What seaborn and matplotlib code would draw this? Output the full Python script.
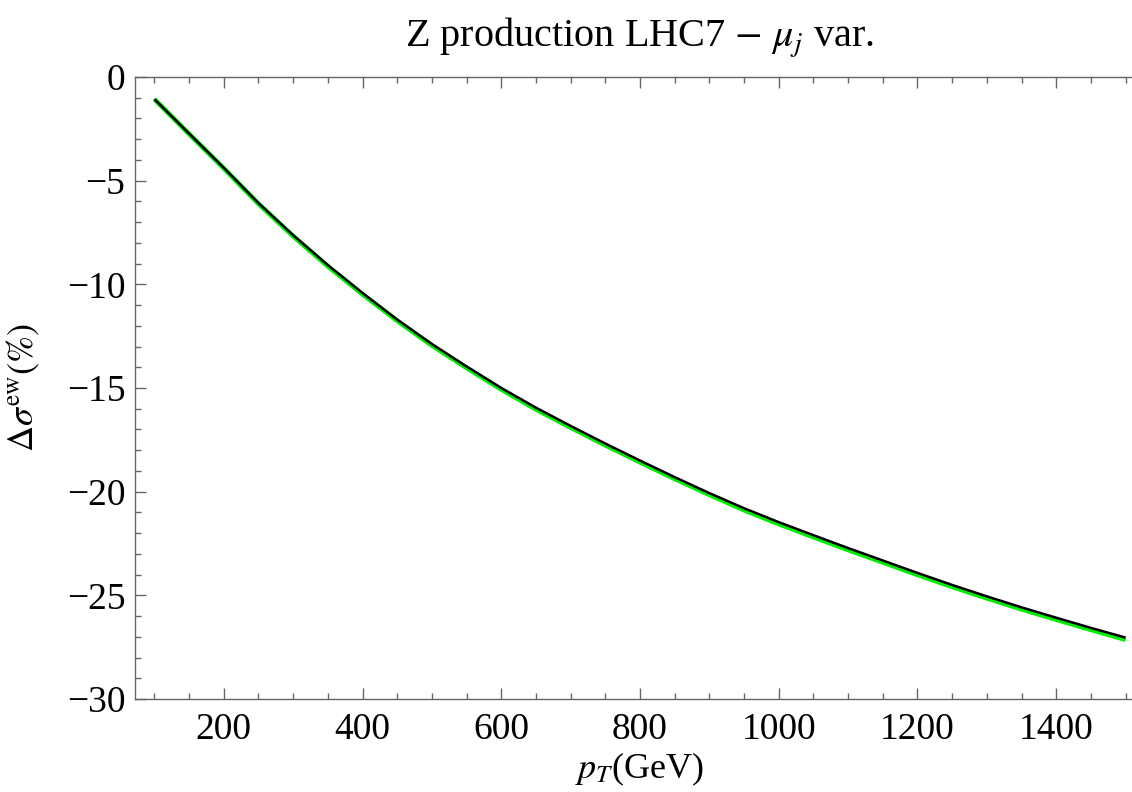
import matplotlib
matplotlib.use("Agg")
import matplotlib.pyplot as plt
from matplotlib.ticker import MultipleLocator
import pandas as pd
import seaborn as sns

# Transverse momentum grid (GeV)
pt = [100, 150, 200, 250, 300, 350, 400, 450, 500, 550, 600, 650, 700, 750,
      800, 850, 900, 950, 1000, 1050, 1100, 1150, 1200, 1250, 1300, 1350,
      1400, 1450, 1500]

# Relative electroweak correction (%) - central scale
delta_central = [-1.07, -2.73, -4.38, -6.08, -7.63, -9.07, -10.42, -11.70,
                 -12.88, -13.96, -15.00, -15.95, -16.83, -17.68, -18.50,
                 -19.30, -20.07, -20.80, -21.47, -22.10, -22.72, -23.32,
                 -23.92, -24.50, -25.05, -25.58, -26.08, -26.57, -27.04]

# Relative electroweak correction (%) - varied jet scale mu_j
delta_varied = [-1.07, -2.75, -4.41, -6.12, -7.68, -9.13, -10.48, -11.76,
                -12.95, -14.03, -15.07, -16.03, -16.91, -17.76, -18.58,
                -19.38, -20.15, -20.89, -21.56, -22.19, -22.81, -23.41,
                -24.01, -24.59, -25.14, -25.67, -26.17, -26.66, -27.14]

title_text = r"Z production LHC7 $-$ $\mu_j$ var."
xlabel_text = r"$p_T$(GeV)"
ylabel_text = r"$\Delta\sigma^{\rm ew}(\%)$"

df = pd.DataFrame({"pt": pt, "central": delta_central, "varied": delta_varied})

sns.set_theme(style="white")
plt.rcParams["font.family"] = ["Liberation Serif", "DejaVu Serif"]
plt.rcParams["mathtext.fontset"] = "stix"
plt.rcParams["axes.unicode_minus"] = True
plt.rcParams["text.color"] = "black"
plt.rcParams["axes.labelcolor"] = "black"

fig = plt.figure(figsize=(11.32, 7.92), dpi=100)
ax = fig.add_axes([135 / 1132, 1 - 699 / 792, 1010 / 1132, 622 / 792])

sns.lineplot(data=df, x="pt", y="varied", ax=ax, color="#00ee00", lw=3.4,
             solid_capstyle="butt", zorder=2)
sns.lineplot(data=df, x="pt", y="central", ax=ax, color="black", lw=1.8,
             solid_capstyle="butt", zorder=3)

ax.set_xlim(72, 1528)
ax.set_ylim(-30, 0)

ax.xaxis.set_major_locator(MultipleLocator(200))
ax.xaxis.set_minor_locator(MultipleLocator(50))
ax.yaxis.set_major_locator(MultipleLocator(5))
ax.yaxis.set_minor_locator(MultipleLocator(1))

axis_grey = "#666666"
for side in ["left", "bottom", "top"]:
    ax.spines[side].set_color(axis_grey)
    ax.spines[side].set_linewidth(1.0)
ax.spines["right"].set_visible(False)

ax.tick_params(which="both", direction="in", top=True, bottom=True, left=True,
               right=False, labeltop=False, color=axis_grey, width=1.0,
               labelsize=27, labelcolor="black")
ax.tick_params(which="major", length=8, pad=7)
ax.tick_params(axis="x", which="major", pad=10)
ax.tick_params(which="minor", length=4.5)

ax.set_xlabel(xlabel_text, fontsize=26, color="black")
ax.set_ylabel(ylabel_text, fontsize=26, color="black")
ax.xaxis.set_label_coords(0.5, -0.083)
ax.yaxis.set_label_coords(-0.092, 0.5)
ax.set_title(title_text, fontsize=29, pad=22, color="black")

fig.savefig("out.png", dpi=100)
